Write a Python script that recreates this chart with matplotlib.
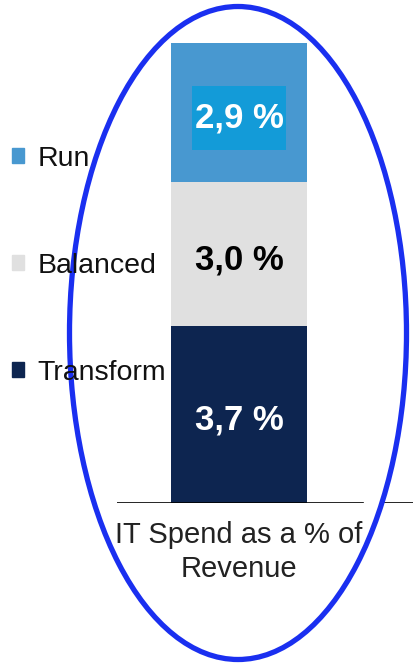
import matplotlib.pyplot as plt
from matplotlib.patches import Ellipse, Patch, Rectangle

plt.rcParams['font.family'] = ['Liberation Sans', 'DejaVu Sans']

# data
segments = ['Transform', 'Balanced', 'Run']
values = [3.7, 3.0, 2.9]
labels = ['3,7 %', '3,0 %', '2,9 %']
colors = ['#0d2550', '#e0e0e0', '#4898d0']
text_colors = ['white', 'black', 'white']
category = 'IT Spend as a % of\nRevenue'

W, H = 414, 663
fig = plt.figure(figsize=(W / 100, H / 100), dpi=100)

# axes placed in pixel terms: x 117..414, y 43..503
ax = fig.add_axes([117 / W, (H - 503) / H, (414 - 117) / W, 460 / H])
ax.set_xlim(-(239 - 117) / 136, (414 - 239) / 136)
ax.set_ylim(0, sum(values))

bottom = 0
handles = []
for seg, v, lab, c, tc in zip(segments, values, labels, colors, text_colors):
    ax.bar(0, v, width=1.0, bottom=bottom, color=c, label=seg)
    handles.append(Patch(color=c, label=seg))
    mid = bottom + v / 2 - 0.12
    if seg == 'Run':
        # highlight box behind the Run value
        ax.add_patch(Rectangle((-0.345, mid - 0.67), 0.69, 1.34, color='#139bd8', lw=0))
    ax.text(0, mid, lab, ha='center', va='center', color=tc,
            fontsize=25, fontweight='bold')
    bottom += v

for s in ax.spines.values():
    s.set_visible(False)
ax.axhline(0, xmin=0, xmax=(363 - 117) / 297, color='black', lw=1.2)
ax.axhline(0, xmin=(383 - 117) / 297, xmax=1, color='black', lw=1.2)
ax.set_yticks([])
ax.set_xticks([0])
ax.set_xticklabels([category], fontsize=21, color='#222222', linespacing=1.25)
ax.tick_params(axis='x', length=0, pad=13)

fig.legend(handles=handles[::-1], loc='upper left', bbox_to_anchor=(3 / W, 1 - 137 / H),
           frameon=False, fontsize=20.5, handlelength=0.42, handleheight=0.42,
           handletextpad=0.48, labelspacing=2.85, borderaxespad=0, borderpad=0.3,
           labelcolor='#111111')

ell = Ellipse((238 / W, 1 - 333 / H), 337 / W, 653 / H, transform=fig.transFigure,
              fill=False, ec='#1a2ff0', lw=3.8)
fig.patches.append(ell)

fig.savefig('out.png', dpi=100)
